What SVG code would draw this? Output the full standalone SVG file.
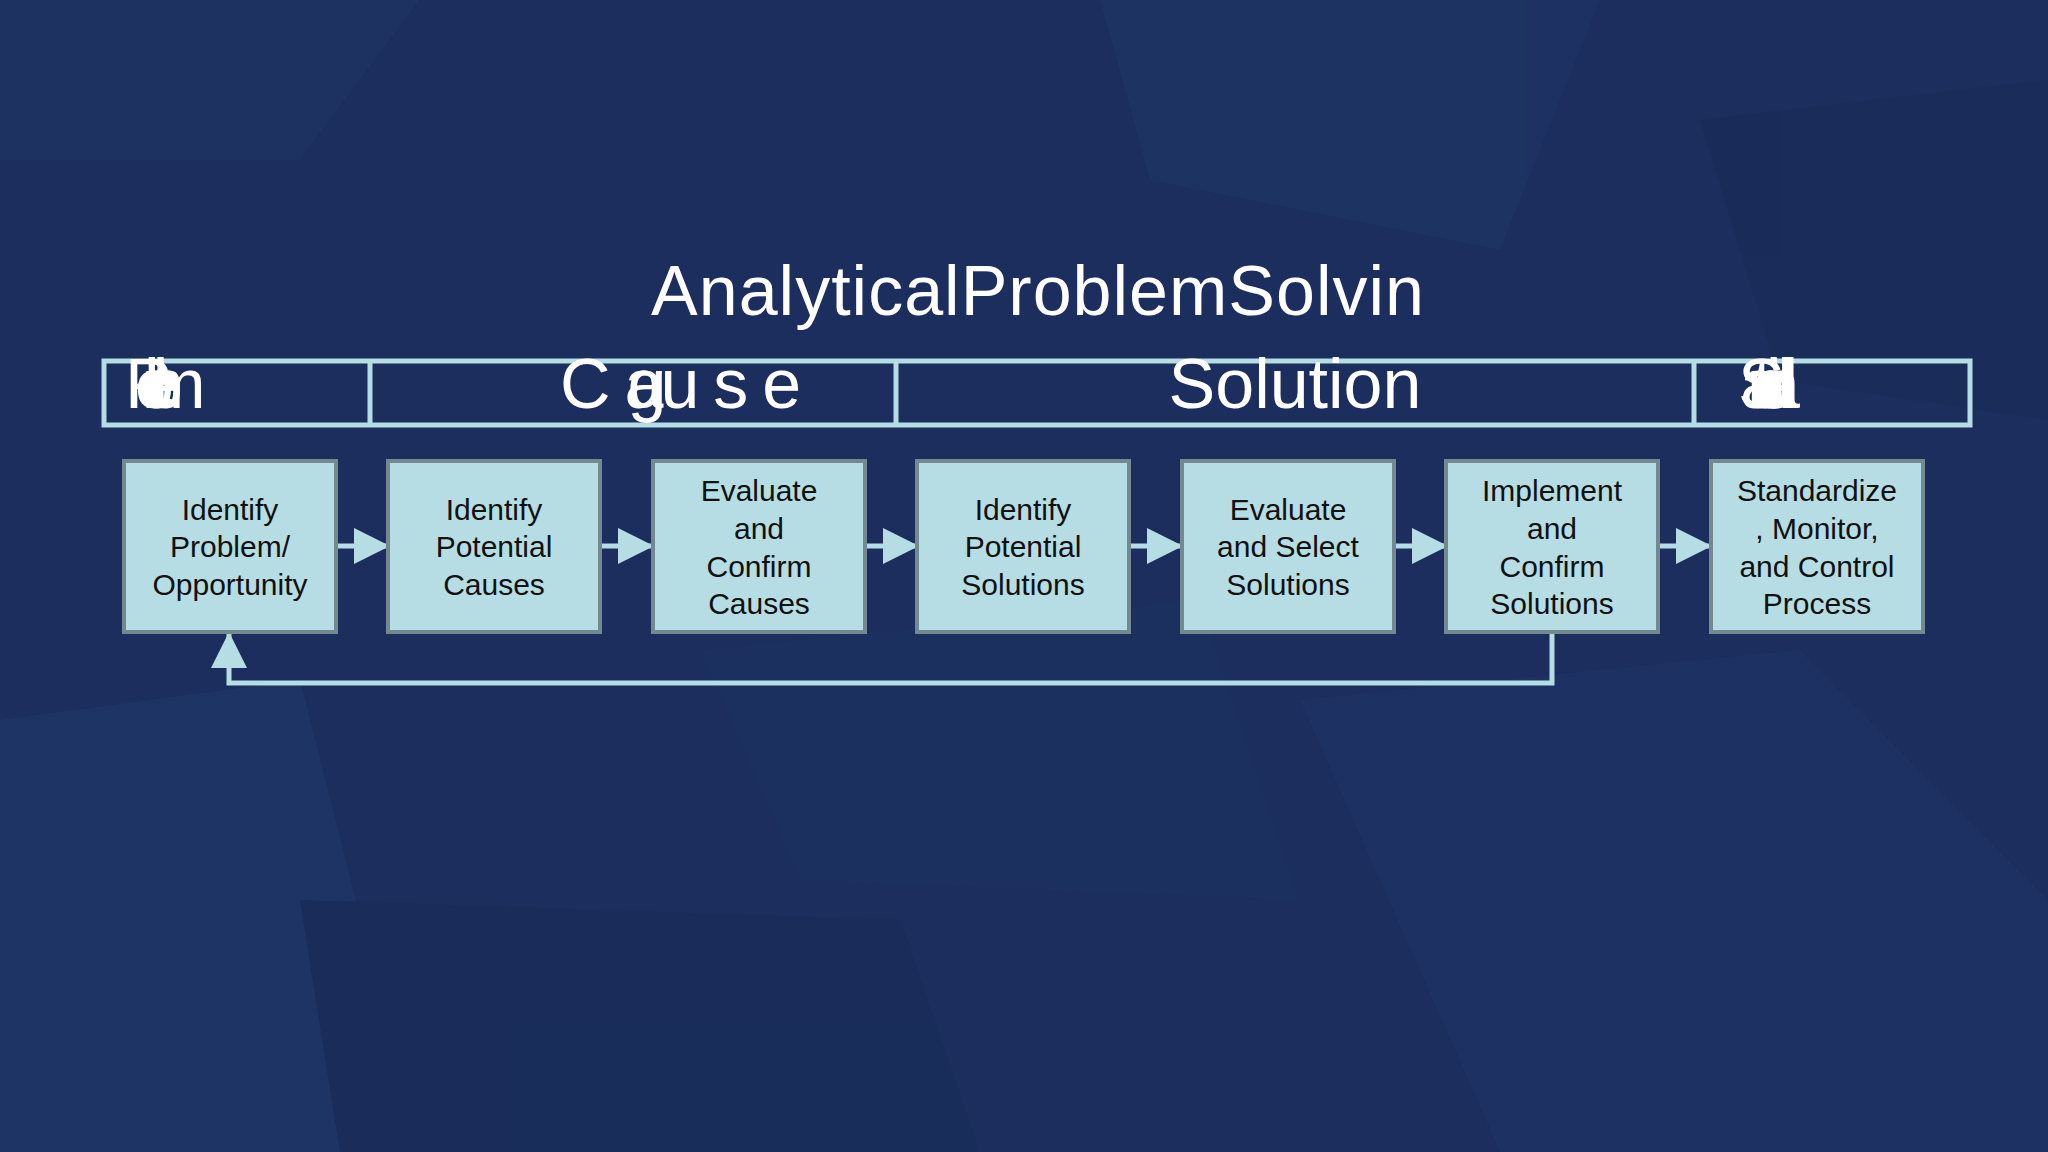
<svg xmlns="http://www.w3.org/2000/svg" width="2048" height="1152" viewBox="0 0 2048 1152">
<style>
.bx{fill:#b5dde3;stroke:#71898f;stroke-width:4}
.bt{font-family:"Liberation Sans",Arial,sans-serif;font-size:30px;fill:#111;text-anchor:middle}
.hd{font-family:"Liberation Sans",Arial,sans-serif;font-size:70px;fill:#fff}
.ln{stroke:#b5dde3;stroke-width:5;fill:none}
</style>
<defs>
<marker id="ah" markerWidth="8" markerHeight="8" refX="7" refY="4" orient="auto" markerUnits="userSpaceOnUse" viewBox="0 0 8 8"><path d="M0,0 L8,4 L0,8z" fill="#b5dde3"/></marker>
<marker id="ah2" markerWidth="36" markerHeight="36" refX="34" refY="18" orient="auto" markerUnits="userSpaceOnUse"><path d="M0,0 L36,18 L0,36z" fill="#b5dde3"/></marker>
</defs>
<rect width="2048" height="1152" fill="#1b2e5d"/>
<g opacity="0.5">
<polygon points="0,0 420,0 300,160 0,160" fill="#1f3566"/>
<polygon points="1100,0 1600,0 1500,250 1150,180" fill="#203768"/>
<polygon points="1700,120 2048,80 2048,420 1780,380" fill="#172a57"/>
<polygon points="0,720 300,680 420,1152 0,1152" fill="#213a6c"/>
<polygon points="300,900 900,920 980,1152 340,1152" fill="#182b58"/>
<polygon points="1300,700 1800,650 2048,900 2048,1152 1500,1152" fill="#1f3567"/>
<polygon points="700,650 1200,600 1300,900 800,880" fill="#1d3262"/>
</g>
<text x="1038" y="315" font-family="Liberation Sans,Arial,sans-serif" font-size="70" fill="#fff" text-anchor="middle" letter-spacing="1">AnalyticalProblemSolvin</text>
<g id="header">
<rect x="104" y="361" width="1866" height="64" fill="none" stroke="#b5dde3" stroke-width="5"/>
<line x1="370" y1="361" x2="370" y2="425" class="ln"/>
<line x1="896" y1="361" x2="896" y2="425" class="ln"/>
<line x1="1694" y1="361" x2="1694" y2="425" class="ln"/>
<text x="125" y="408" class="hd" font-size="66" letter-spacing="-30">Problem</text>
<text x="560" y="408" class="hd" letter-spacing="14">Ca<tspan dx="-50">g</tspan><tspan dx="-20">use</tspan></text>
<text x="1295" y="408" class="hd" text-anchor="middle">Solution</text>
<text x="1738" y="408" class="hd" font-size="66" letter-spacing="-32">Standardize</text>
</g>
<g id="connectors">
<line x1="336" y1="546" x2="388" y2="546" class="ln" marker-end="url(#ah2)"/>
<line x1="600" y1="546" x2="652" y2="546" class="ln" marker-end="url(#ah2)"/>
<line x1="865" y1="546" x2="917" y2="546" class="ln" marker-end="url(#ah2)"/>
<line x1="1129" y1="546" x2="1181" y2="546" class="ln" marker-end="url(#ah2)"/>
<line x1="1394" y1="546" x2="1446" y2="546" class="ln" marker-end="url(#ah2)"/>
<line x1="1658" y1="546" x2="1710" y2="546" class="ln" marker-end="url(#ah2)"/>
<polyline points="1552,632 1552,683 229,683 229,634" class="ln" marker-end="url(#ah2)"/>
</g>
<g id="n1"><rect class="bx" x="124" y="461" width="212" height="171"/><text class="bt" x="230"><tspan x="230" y="520">Identify</tspan><tspan x="230" y="557">Problem/</tspan><tspan x="230" y="595">Opportunity</tspan></text></g>
<g id="n2"><rect class="bx" x="388" y="461" width="212" height="171"/><text class="bt"><tspan x="494" y="520">Identify</tspan><tspan x="494" y="557">Potential</tspan><tspan x="494" y="595">Causes</tspan></text></g>
<g id="n3"><rect class="bx" x="653" y="461" width="212" height="171"/><text class="bt"><tspan x="759" y="501">Evaluate</tspan><tspan x="759" y="539">and</tspan><tspan x="759" y="577">Confirm</tspan><tspan x="759" y="614">Causes</tspan></text></g>
<g id="n4"><rect class="bx" x="917" y="461" width="212" height="171"/><text class="bt"><tspan x="1023" y="520">Identify</tspan><tspan x="1023" y="557">Potential</tspan><tspan x="1023" y="595">Solutions</tspan></text></g>
<g id="n5"><rect class="bx" x="1182" y="461" width="212" height="171"/><text class="bt"><tspan x="1288" y="520">Evaluate</tspan><tspan x="1288" y="557">and Select</tspan><tspan x="1288" y="595">Solutions</tspan></text></g>
<g id="n6"><rect class="bx" x="1446" y="461" width="212" height="171"/><text class="bt"><tspan x="1552" y="501">Implement</tspan><tspan x="1552" y="539">and</tspan><tspan x="1552" y="577">Confirm</tspan><tspan x="1552" y="614">Solutions</tspan></text></g>
<g id="n7"><rect class="bx" x="1711" y="461" width="212" height="171"/><text class="bt"><tspan x="1817" y="501">Standardize</tspan><tspan x="1817" y="539">, Monitor,</tspan><tspan x="1817" y="577">and Control</tspan><tspan x="1817" y="614">Process</tspan></text></g>
</svg>
